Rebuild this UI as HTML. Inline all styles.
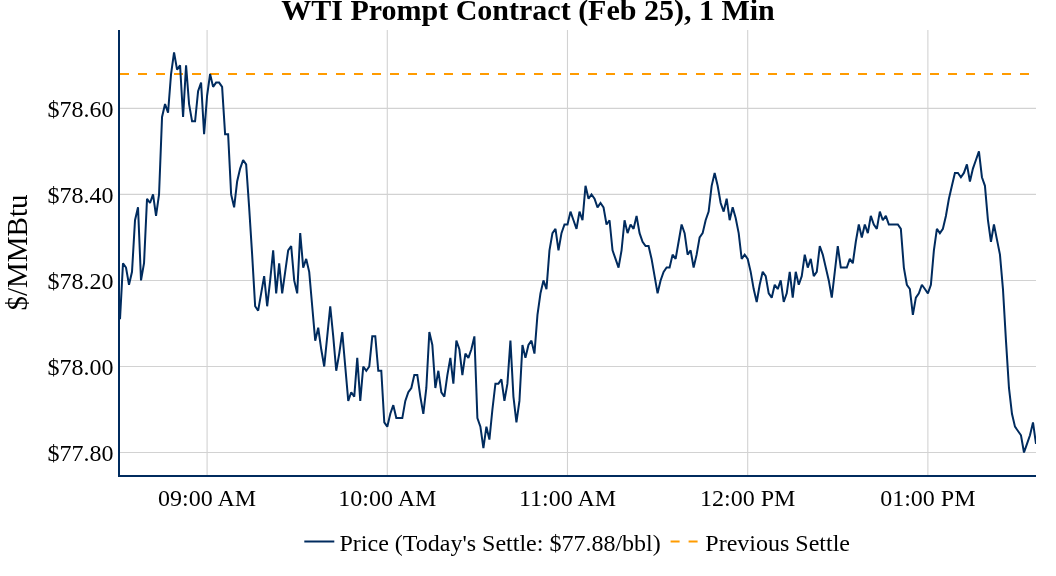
<!DOCTYPE html>
<html><head><meta charset="utf-8"><title>WTI Prompt Contract</title>
<style>
html,body{margin:0;padding:0;background:#fff;}
svg{display:block;}
text{font-family:"Liberation Serif","Times New Roman",serif;fill:#000;}
</style></head><body>
<svg width="1056" height="576" viewBox="0 0 1056 576">
<rect width="1056" height="576" fill="#fff"/>
<defs><clipPath id="pc"><rect x="120" y="30" width="916" height="445"/></clipPath></defs>
<g stroke="#d2d2d2" stroke-width="1.1" fill="none">
<path d="M207.10,30V475"/>
<path d="M387.29,30V475"/>
<path d="M567.49,30V475"/>
<path d="M747.69,30V475"/>
<path d="M927.88,30V475"/>
<path d="M120,452.50H1036"/>
<path d="M120,366.47H1036"/>
<path d="M120,280.45H1036"/>
<path d="M120,194.42H1036"/>
<path d="M120,108.40H1036"/>
</g>
<path d="M120,73.99H1036" stroke="#ff9b00" stroke-width="2" stroke-dasharray="9,9" fill="none" clip-path="url(#pc)"/>
<path d="M120.00,319.16 L123.00,263.25 L126.01,267.55 L129.01,284.75 L132.01,271.85 L135.02,220.23 L138.02,207.33 L141.02,280.45 L144.03,263.25 L147.03,198.73 L150.03,203.03 L153.04,194.42 L156.04,215.93 L159.04,194.42 L162.05,117.00 L165.05,104.10 L168.05,112.70 L171.06,73.99 L174.06,52.48 L177.06,69.69 L180.07,65.39 L183.07,117.00 L186.07,65.39 L189.08,104.10 L192.08,121.30 L195.08,121.30 L198.09,91.19 L201.09,82.59 L204.09,134.21 L207.10,95.50 L210.10,73.99 L213.10,86.89 L216.10,82.59 L219.11,82.59 L222.11,86.89 L225.11,134.21 L228.12,134.21 L231.12,194.42 L234.12,207.33 L237.13,181.52 L240.13,168.62 L243.13,160.01 L246.14,164.32 L249.14,207.33 L252.14,254.64 L255.15,306.26 L258.15,310.56 L261.15,293.35 L264.16,276.15 L267.16,306.26 L270.16,280.45 L273.17,250.34 L276.17,293.35 L279.17,263.25 L282.18,293.35 L285.18,271.85 L288.18,250.34 L291.19,246.04 L294.19,280.45 L297.19,293.35 L300.20,233.14 L303.20,267.55 L306.20,258.94 L309.21,271.85 L312.21,306.26 L315.21,340.67 L318.22,327.76 L321.22,349.27 L324.22,366.47 L327.23,336.37 L330.23,306.26 L333.23,336.37 L336.24,370.78 L339.24,353.57 L342.24,332.06 L345.25,366.47 L348.25,400.88 L351.25,392.28 L354.26,396.58 L357.26,357.87 L360.26,400.88 L363.27,366.47 L366.27,370.78 L369.27,366.47 L372.28,336.37 L375.28,336.37 L378.28,370.78 L381.29,370.78 L384.29,422.39 L387.29,426.69 L390.30,413.79 L393.30,405.19 L396.30,418.09 L399.30,418.09 L402.31,418.09 L405.31,400.88 L408.31,392.28 L411.32,387.98 L414.32,375.08 L417.32,375.08 L420.33,396.58 L423.33,413.79 L426.33,387.98 L429.34,332.06 L432.34,344.97 L435.34,387.98 L438.35,370.78 L441.35,392.28 L444.35,396.58 L447.36,375.08 L450.36,357.87 L453.36,383.68 L456.37,340.67 L459.37,349.27 L462.37,375.08 L465.38,353.57 L468.38,357.87 L471.38,349.27 L474.39,336.37 L477.39,418.09 L480.39,426.69 L483.40,448.20 L486.40,426.69 L489.40,439.60 L492.41,409.49 L495.41,383.68 L498.41,383.68 L501.42,379.38 L504.42,400.88 L507.42,383.68 L510.43,340.67 L513.43,396.58 L516.43,422.39 L519.44,400.88 L522.44,344.97 L525.44,357.87 L528.45,344.97 L531.45,340.67 L534.45,353.57 L537.46,314.86 L540.46,293.35 L543.46,280.45 L546.47,289.05 L549.47,250.34 L552.47,233.14 L555.48,228.84 L558.48,250.34 L561.48,233.14 L564.49,224.53 L567.49,224.53 L570.49,211.63 L573.50,220.23 L576.50,228.84 L579.50,211.63 L582.50,220.23 L585.51,185.82 L588.51,198.73 L591.51,194.42 L594.52,198.73 L597.52,207.33 L600.52,203.03 L603.53,207.33 L606.53,224.53 L609.53,220.23 L612.54,250.34 L615.54,258.94 L618.54,267.55 L621.55,250.34 L624.55,220.23 L627.55,233.14 L630.56,224.53 L633.56,228.84 L636.56,215.93 L639.57,233.14 L642.57,241.74 L645.57,246.04 L648.58,246.04 L651.58,258.94 L654.58,276.15 L657.59,293.35 L660.59,280.45 L663.59,271.85 L666.60,267.55 L669.60,267.55 L672.60,254.64 L675.61,258.94 L678.61,241.74 L681.61,224.53 L684.62,233.14 L687.62,254.64 L690.62,250.34 L693.63,267.55 L696.63,254.64 L699.63,237.44 L702.64,233.14 L705.64,220.23 L708.64,211.63 L711.65,185.82 L714.65,172.92 L717.65,185.82 L720.66,203.03 L723.66,211.63 L726.66,198.73 L729.67,220.23 L732.67,207.33 L735.67,218.08 L738.68,233.14 L741.68,258.94 L744.68,254.64 L747.69,258.94 L750.69,271.85 L753.69,289.05 L756.70,301.96 L759.70,284.75 L762.70,271.85 L765.70,276.15 L768.71,293.35 L771.71,297.66 L774.71,284.75 L777.72,289.05 L780.72,280.45 L783.72,301.96 L786.73,293.35 L789.73,271.85 L792.73,297.66 L795.74,271.85 L798.74,284.75 L801.74,276.15 L804.75,254.64 L807.75,267.55 L810.75,258.94 L813.76,276.15 L816.76,271.85 L819.76,246.04 L822.77,254.64 L825.77,267.55 L828.77,280.45 L831.78,297.66 L834.78,271.85 L837.78,246.04 L840.79,267.55 L843.79,267.55 L846.79,267.55 L849.80,258.94 L852.80,263.25 L855.80,241.74 L858.81,224.53 L861.81,237.44 L864.81,224.53 L867.82,233.14 L870.82,215.93 L873.82,224.53 L876.83,228.84 L879.83,211.63 L882.83,220.23 L885.84,215.93 L888.84,224.53 L891.84,224.53 L894.85,224.53 L897.85,224.53 L900.85,228.84 L903.86,267.55 L906.86,284.75 L909.86,289.05 L912.87,314.86 L915.87,297.66 L918.87,293.35 L921.88,284.75 L924.88,289.05 L927.88,293.35 L930.89,284.75 L933.89,250.34 L936.89,228.84 L939.90,233.14 L942.90,228.84 L945.90,215.93 L948.90,198.73 L951.91,185.82 L954.91,172.92 L957.91,172.92 L960.92,177.22 L963.92,172.92 L966.92,164.32 L969.93,181.52 L972.93,168.62 L975.93,160.01 L978.94,151.41 L981.94,177.22 L984.94,185.82 L987.95,220.23 L990.95,241.74 L993.95,224.53 L996.96,239.59 L999.96,254.64 L1002.96,289.05 L1005.97,340.67 L1008.97,387.98 L1011.97,413.79 L1014.98,426.69 L1017.98,430.99 L1020.98,435.29 L1023.99,452.50 L1026.99,443.90 L1029.99,435.29 L1033.00,422.39 L1036.00,443.90" stroke="#002b5e" stroke-width="2" fill="none" stroke-linejoin="miter" stroke-miterlimit="2" clip-path="url(#pc)"/>
<path d="M119,30V477" stroke="#002b5e" stroke-width="2"/>
<path d="M118,476H1036" stroke="#002b5e" stroke-width="2"/>
<text x="528" y="20.3" text-anchor="middle" font-size="30" font-weight="bold">WTI Prompt Contract (Feb 25), 1 Min</text>
<text x="207.10" y="506" text-anchor="middle" font-size="24">09:00 AM</text>
<text x="387.29" y="506" text-anchor="middle" font-size="24">10:00 AM</text>
<text x="567.49" y="506" text-anchor="middle" font-size="24">11:00 AM</text>
<text x="747.69" y="506" text-anchor="middle" font-size="24">12:00 PM</text>
<text x="927.88" y="506" text-anchor="middle" font-size="24">01:00 PM</text>
<text x="113.5" y="460.70" text-anchor="end" font-size="24">$77.80</text>
<text x="113.5" y="374.67" text-anchor="end" font-size="24">$78.00</text>
<text x="113.5" y="288.65" text-anchor="end" font-size="24">$78.20</text>
<text x="113.5" y="202.62" text-anchor="end" font-size="24">$78.40</text>
<text x="113.5" y="116.60" text-anchor="end" font-size="24">$78.60</text>
<text transform="translate(26.5,252.5) rotate(-90)" text-anchor="middle" font-size="29">$/MMBtu</text>
<path d="M304.3,541.5H334.3" stroke="#002b5e" stroke-width="2"/>
<text x="339.5" y="551" font-size="24">Price (Today's Settle: $77.88/bbl)</text>
<path d="M670.6,541.5H700.6" stroke="#ff9b00" stroke-width="2" stroke-dasharray="9,9"/>
<text x="705.3" y="551" font-size="24">Previous Settle</text>
</svg></body></html>
